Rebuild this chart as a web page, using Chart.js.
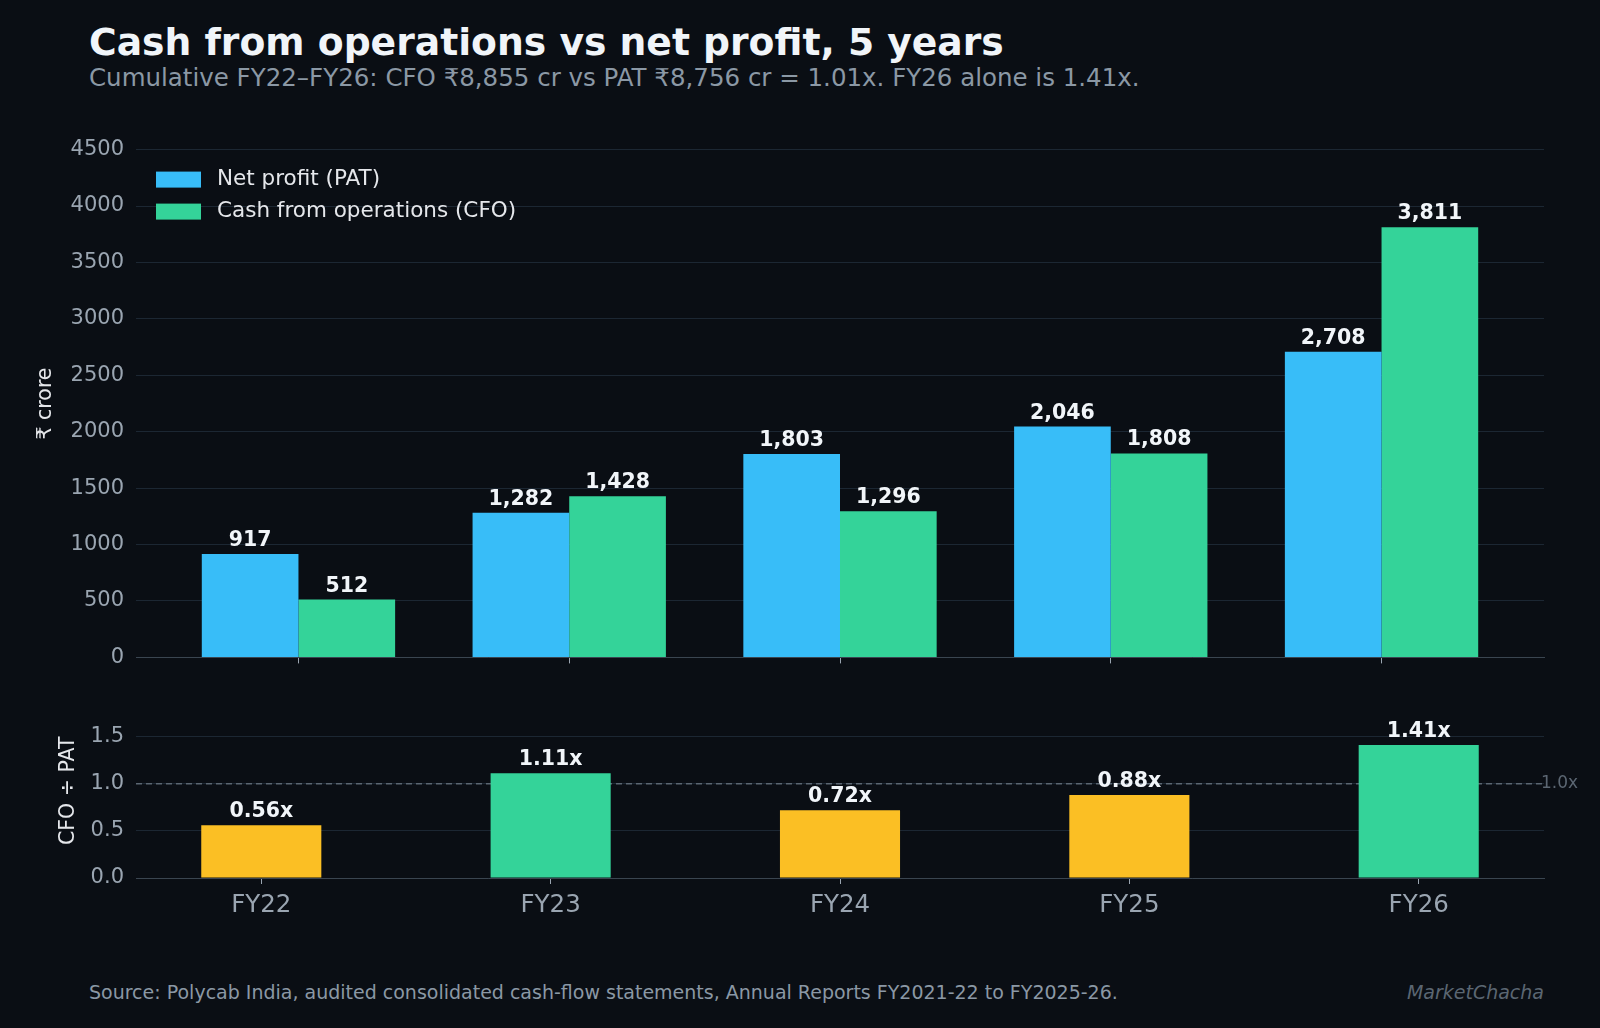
<!DOCTYPE html>
<html><head><meta charset="utf-8">
<script src="https://cdn.jsdelivr.net/npm/chart.js@4/dist/chart.umd.min.js"></script>
<style>
body{margin:0;background:#0a0e14;width:1600px;height:1028px;position:relative;overflow:hidden;font-family:"DejaVu Sans",sans-serif}
.t{position:absolute;white-space:nowrap}
canvas{position:absolute;left:0}
</style></head><body>
<div class="t" style="left:89px;top:20px;font-size:37.7px;font-weight:bold;color:#f1f5f9">Cash from operations vs net profit, 5 years</div>
<div class="t" style="left:89px;top:63px;font-size:24.5px;color:#8b98a5">Cumulative FY22–FY26: CFO ₹8,855 cr vs PAT ₹8,756 cr = 1.01x. FY26 alone is 1.41x.</div>
<div style="position:absolute;left:0;top:125px;width:1600px;height:557px"><canvas id="c1"></canvas></div>
<div style="position:absolute;left:0;top:679px;width:1600px;height:249px"><canvas id="c2"></canvas></div>
<div class="t" style="left:89px;top:981px;font-size:19px;color:#8b98a5">Source: Polycab India, audited consolidated cash-flow statements, Annual Reports FY2021-22 to FY2025-26.</div>
<div class="t" style="right:56px;top:981px;font-size:19px;color:#5b6672;font-style:italic">MarketChacha</div>
<script>
const categories=['FY22','FY23','FY24','FY25','FY26'];
const pat=[917,1282,1803,2046,2708];
const cfo=[512,1428,1296,1808,3811];
const ratio=[0.56,1.11,0.72,0.88,1.41];
const topTicks=[0,500,1000,1500,2000,2500,3000,3500,4000,4500];
const ratioTicks=[0,0.5,1.0,1.5];
const BLUE='#38bdf8',GREEN='#34d399',YELLOW='#fbbf24';
const GRID='#1c2733',TICK='#9aa5b1',F='"DejaVu Sans"';
Chart.defaults.font.family=F;
Chart.defaults.animation=false;
const labelPlugin=fmt=>({id:'lbl',afterDatasetsDraw(ch){const c=ch.ctx;c.save();c.fillStyle='#f1f5f9';c.font='bold 20.5px '+F;c.textAlign='center';c.textBaseline='bottom';
ch.data.datasets.forEach((d,i)=>ch.getDatasetMeta(i).data.forEach((b,j)=>c.fillText(fmt(d.data[j].y),b.x,b.y-3)));c.restore();}});
const ytitle=(txt,x)=>({id:'yt',afterDraw(ch){const c=ch.ctx,a=ch.chartArea;c.save();c.fillStyle='#e5e7eb';c.font='20.5px '+F;c.textAlign='center';c.textBaseline='middle';
c.translate(x,(a.top+a.bottom)/2);c.rotate(-Math.PI/2);c.fillText(txt,0,0);c.restore();}});
new Chart(document.getElementById('c1'),{type:'bar',
data:{datasets:[
{label:'Net profit (PAT)',data:pat.map((v,i)=>({x:i,y:v})),backgroundColor:BLUE,categoryPercentage:0.714,barPercentage:1},
{label:'Cash from operations (CFO)',data:cfo.map((v,i)=>({x:i,y:v})),backgroundColor:GREEN,categoryPercentage:0.714,barPercentage:1}]},
options:{responsive:true,maintainAspectRatio:false,layout:{padding:{top:16,right:56}},
plugins:{legend:{display:false},tooltip:{enabled:false}},
scales:{x:{type:'linear',offset:false,min:-0.6,max:4.6,afterFit(s){s.height=17},ticks:{display:false},
 afterBuildTicks(s){s.ticks=categories.map((_,i)=>({value:i}))},
 grid:{offset:false,drawOnChartArea:false,drawTicks:true,tickLength:6,color:TICK},border:{color:'#3a4550'}},
y:{min:0,max:4500,afterFit(s){s.width=136},afterBuildTicks(s){s.ticks=topTicks.map(v=>({value:v}))},
 ticks:{color:TICK,font:{size:21},padding:12,callback:v=>String(v)},grid:{color:GRID,drawTicks:false},border:{display:false}}}},
plugins:[labelPlugin(v=>v.toLocaleString('en-US')),ytitle('₹ crore',46),{id:'leg',afterDraw(ch){const c=ch.ctx,a=ch.chartArea;c.save();c.font='21.5px '+F;c.textBaseline='middle';
ch.data.datasets.forEach((d,i)=>{const y=a.top+30+i*32;c.fillStyle=d.backgroundColor;c.fillRect(a.left+20,y-8,45,16);c.fillStyle='#e5e7eb';c.fillText(d.label,a.left+81,y);});c.restore();}}]});
new Chart(document.getElementById('c2'),{type:'bar',
data:{datasets:[{data:ratio.map((v,i)=>({x:i,y:v})),backgroundColor:ratio.map(v=>v>=1?GREEN:YELLOW),categoryPercentage:0.415,barPercentage:1}]},
options:{responsive:true,maintainAspectRatio:false,layout:{padding:{top:17,right:56}},
plugins:{legend:{display:false},tooltip:{enabled:false}},
scales:{x:{type:'linear',offset:false,min:-0.433,max:4.433,afterFit(s){s.height=50},afterBuildTicks(s){s.ticks=categories.map((_,i)=>({value:i}))},
 ticks:{color:TICK,font:{size:24.5},padding:7,callback:v=>categories[v]},
 grid:{offset:false,drawOnChartArea:false,drawTicks:true,tickLength:6,color:TICK},border:{color:'#3a4550'}},
y:{min:0,max:1.85,afterFit(s){s.width=136},afterBuildTicks(s){s.ticks=ratioTicks.map(v=>({value:v}))},
 ticks:{color:TICK,font:{size:21},padding:12,callback:v=>v.toFixed(1)},grid:{color:GRID,drawTicks:false},border:{display:false}}}},
plugins:[{id:'ref',beforeDatasetsDraw(ch){const c=ch.ctx,a=ch.chartArea,y=ch.scales.y.getPixelForValue(1);c.save();c.strokeStyle='#5b6672';c.lineWidth=1.5;c.setLineDash([6,4]);
c.beginPath();c.moveTo(a.left,y);c.lineTo(a.right,y);c.stroke();c.restore();},
afterDraw(ch){const c=ch.ctx,a=ch.chartArea,y=ch.scales.y.getPixelForValue(1);c.save();c.fillStyle='#5b6672';c.font='17px '+F;c.textBaseline='middle';c.fillText('1.0x',a.right-3,y);c.restore();}},
ytitle('CFO ÷ PAT',69),labelPlugin(v=>v.toFixed(2)+'x')]});
</script></body></html>
